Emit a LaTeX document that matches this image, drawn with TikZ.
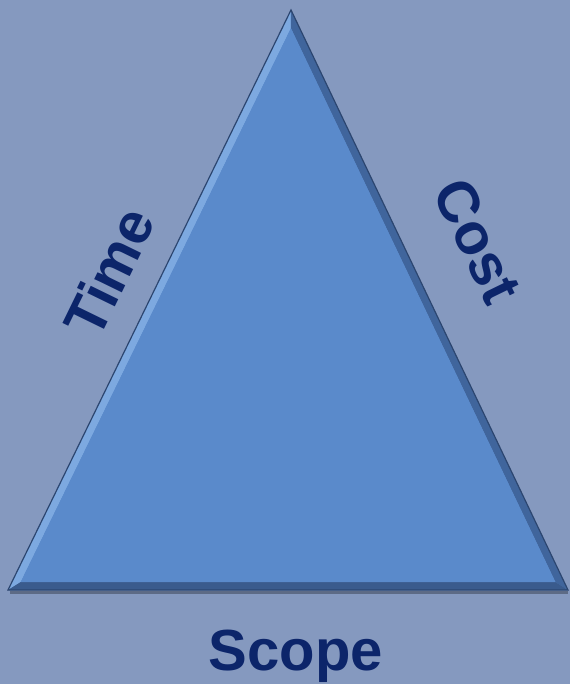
\documentclass[tikz,border=0pt]{standalone}
\usepackage{fontspec}
\setmainfont{Liberation Sans}
\definecolor{tribg}{HTML}{8599BF}
\definecolor{trifill}{HTML}{5A8ACB}
\definecolor{trilight}{HTML}{7DA9E0}
\definecolor{tridark}{HTML}{40659C}
\definecolor{triedge}{HTML}{2C4670}
\definecolor{trinavy}{HTML}{0C256A}
\usepackage{tikz}
\usetikzlibrary{calc}

\begin{document}
\begin{tikzpicture}[
  x=1pt, y=-1pt,
  lbl/.style={font=\fontsize{58}{60}\selectfont\bfseries,
    text=trinavy, inner sep=0pt}
]
  \useasboundingbox[fill=tribg] (0,0) rectangle (570,684);

  % corners of the triangle and its incentre
  \coordinate (top) at (291,10);
  \coordinate (bl) at (8,590);
  \coordinate (br) at (568,590);
  \coordinate (mid) at (289.3,414.25);
  \coordinate (itop) at ($(mid)!0.955!(top)$);
  \coordinate (ibl) at ($(mid)!0.955!(bl)$);
  \coordinate (ibr) at ($(mid)!0.955!(br)$);

  % shadow under the base
  \draw[tribg!70!black, line width=3pt] ($(bl)+(2,2)$) -- ($(br)+(0,2)$);

  % bevelled triangle
  \fill[trifill] (top) -- (bl) -- (br) -- cycle;
  \fill[trilight] (top) -- (bl) -- (ibl) -- (itop) -- cycle;
  \fill[tridark] (top) -- (br) -- (ibr) -- (itop) -- cycle;
  \fill[tridark!90!black] (bl) -- (br) -- (ibr) -- (ibl) -- cycle;
  \fill[trifill] (itop) -- (ibl) -- (ibr) -- cycle;
  \draw[triedge, line width=1.2pt, line join=miter] (top) -- (bl) -- (br) -- cycle;

  % labels
  \node[lbl, rotate=64] (time) at (109,272) {Time};
  \node[lbl, rotate=-64] (cost) at (478,241) {Cost};
  \node[lbl] (scope) at (296,656) {Scope};
\end{tikzpicture}
\end{document}
